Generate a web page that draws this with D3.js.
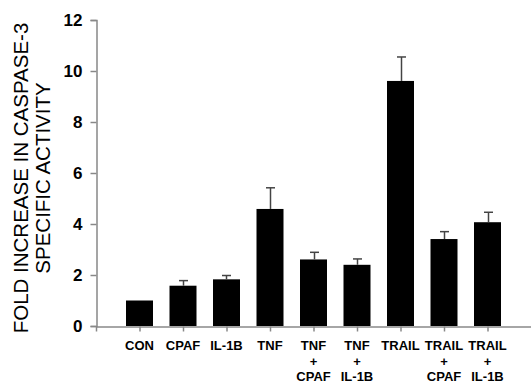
<!DOCTYPE html>
<html>
<head>
<meta charset="utf-8">
<script src="https://cdn.jsdelivr.net/npm/d3@7"></script>
<style>
  body { margin: 0; background: #fff; }
  text { font-family: "Liberation Sans", Arial, sans-serif; }
</style>
</head>
<body>
<div id="chart"></div>
<script>
// Categories (label lines) and values
var categories = ["CON", "CPAF", "IL-1B", "TNF", "TNF+CPAF", "TNF+IL-1B", "TRAIL", "TRAIL+CPAF", "TRAIL+IL-1B"];
var labelLines = [["CON"], ["CPAF"], ["IL-1B"], ["TNF"], ["TNF", "+", "CPAF"], ["TNF", "+", "IL-1B"], ["TRAIL"], ["TRAIL", "+", "CPAF"], ["TRAIL", "+", "IL-1B"]];
var values = [1.0, 1.58, 1.83, 4.59, 2.61, 2.40, 9.61, 3.41, 4.07];
var errors = [0, 0.2, 0.15, 0.83, 0.28, 0.23, 0.94, 0.29, 0.39];
var yTicks = [0, 2, 4, 6, 8, 10, 12];

var svgWidth = 531;
var svgHeight = 383;

var svg = d3.select("#chart").append("svg")
    .attr("width", svgWidth)
    .attr("height", svgHeight);

// positions 1..9 on a 0..10 axis
var x = d3.scaleLinear().domain([0, 10]).range([96, 531]);
var y = d3.scaleLinear().domain([0, 12]).range([326, 20]);
var barWidth = 27;

var data = categories.map(function(c, i) {
    return { cat: c, lines: labelLines[i], value: values[i], err: errors[i], pos: i + 1 };
});

// Bars
svg.selectAll(".bar").data(data).enter().append("rect")
    .attr("x", d => x(d.pos) - barWidth / 2)
    .attr("y", d => y(d.value))
    .attr("width", barWidth)
    .attr("height", d => y(0) - y(d.value))
    .attr("fill", "#000");

// Error bars (upper only)
var errG = svg.append("g").attr("stroke", "#444").attr("stroke-width", 1.5);
data.filter(d => d.err > 0).forEach(function(d) {
    var cx = Math.round(x(d.pos)) + 0.5;
    errG.append("line").attr("x1", cx).attr("x2", cx)
        .attr("y1", y(d.value)).attr("y2", y(d.value + d.err));
    errG.append("line").attr("x1", cx - 4.5).attr("x2", cx + 4.5)
        .attr("y1", y(d.value + d.err)).attr("y2", y(d.value + d.err));
});

// Y axis
var yAxis = svg.append("g")
    .attr("transform", "translate(96.5,0)")
    .call(d3.axisLeft(y).tickValues(yTicks).tickSize(6).tickPadding(8).tickFormat(d3.format("d")));
yAxis.select(".domain").attr("stroke", "#888").attr("stroke-width", 1.5);
yAxis.selectAll(".tick line").attr("stroke", "#888").attr("stroke-width", 1.5);
yAxis.selectAll(".tick text")
    .attr("font-family", "Liberation Sans, Arial, sans-serif")
    .attr("font-size", 17).attr("font-weight", "bold").attr("fill", "#000");

// X axis
var xAxis = svg.append("g")
    .attr("transform", "translate(0,326.5)")
    .call(d3.axisBottom(x).tickValues(d3.range(0, 10)).tickSize(5).tickSizeOuter(0).tickFormat(""));
xAxis.select(".domain").attr("stroke", "#888").attr("stroke-width", 1.5);
xAxis.selectAll(".tick line").attr("stroke", "#888").attr("stroke-width", 1.5);

// Category labels
var labG = svg.append("g")
    .attr("font-size", 13).attr("font-weight", "bold").attr("text-anchor", "middle");
data.forEach(function(d) {
    var t = labG.append("text").attr("x", x(d.pos)).attr("y", 350);
    d.lines.forEach(function(line, j) {
        t.append("tspan").attr("x", x(d.pos)).attr("y", 350 + j * 15.5).text(line);
    });
});

// Y axis title
var title = svg.append("text")
    .attr("transform", "translate(27.5,178) rotate(-90)")
    .attr("text-anchor", "middle")
    .attr("font-size", 20.5).attr("fill", "#000");
title.append("tspan").attr("x", 0).attr("y", 0).text("FOLD INCREASE IN CASPASE-3");
title.append("tspan").attr("x", 0).attr("y", 22).text("SPECIFIC ACTIVITY");
</script>
</body>
</html>
